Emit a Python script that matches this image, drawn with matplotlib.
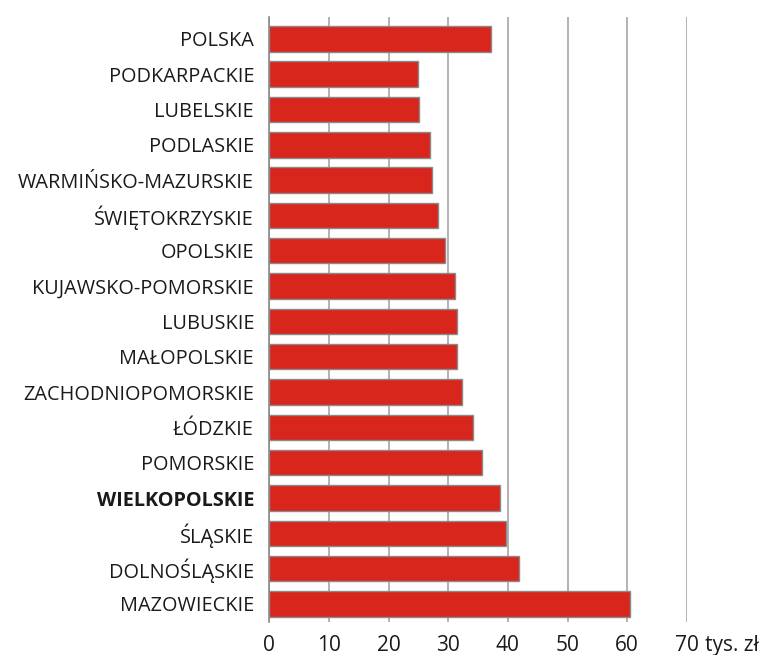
import numpy as np
import matplotlib
matplotlib.use('Agg')
import matplotlib.pyplot as plt

# wojewodztwa, od gory do dolu
regions = ['POLSKA', 'PODKARPACKIE', 'LUBELSKIE', 'PODLASKIE',
           'WARMIŃSKO-MAZURSKIE', 'ŚWIĘTOKRZYSKIE', 'OPOLSKIE',
           'KUJAWSKO-POMORSKIE', 'LUBUSKIE', 'MAŁOPOLSKIE',
           'ZACHODNIOPOMORSKIE', 'ŁÓDZKIE', 'POMORSKIE', 'WIELKOPOLSKIE',
           'ŚLĄSKIE', 'DOLNOŚLĄSKIE', 'MAZOWIECKIE']
values = [37.2, 25.0, 25.1, 27.0, 27.2, 28.2, 29.4, 31.2, 31.4, 31.5,
          32.3, 34.2, 35.6, 38.6, 39.7, 41.8, 60.4]
xticks = [0, 10, 20, 30, 40, 50, 60, 70]
unit = 'tys. zł'
highlight = 'WIELKOPOLSKIE'

plt.rcParams['font.family'] = ['Open Sans', 'DejaVu Sans']

fig = plt.figure(figsize=(7.63, 6.55), dpi=100)
ax = fig.add_axes([0.3530, 0.0504, 0.5471, 0.9237])

ypos = np.arange(len(regions))
ax.barh(ypos, values, height=0.72, color='#d9261c', edgecolor='#8a8a8a',
        linewidth=1.0, zorder=3)

ax.set_xlim(0, 70)
ax.set_ylim(len(regions) - 0.49, -0.62)
ax.set_xticks(xticks)
ax.set_xticklabels([str(t) for t in xticks])
ax.set_yticks(ypos)
ax.set_yticklabels(regions)

ax.grid(axis='x', color='#a6a6a6', linewidth=1.2, zorder=0)
ax.set_axisbelow(True)
for s in ['top', 'right', 'bottom']:
    ax.spines[s].set_visible(False)
ax.spines['left'].set_color('#8a8a8a')
ax.spines['left'].set_linewidth(1.2)

ax.tick_params(axis='y', length=0, pad=11, labelsize=14.3, labelcolor='#1a1a1a')
ax.tick_params(axis='x', length=0, pad=9.5, labelsize=15, labelcolor='#1a1a1a')
for lbl in ax.get_yticklabels():
    if lbl.get_text() == highlight:
        lbl.set_fontweight('bold')

fig.text(705 / 763, 1 - 645 / 655, unit, fontsize=15, color='#1a1a1a',
         ha='left', va='center')

plt.savefig('out.png', dpi=100)
